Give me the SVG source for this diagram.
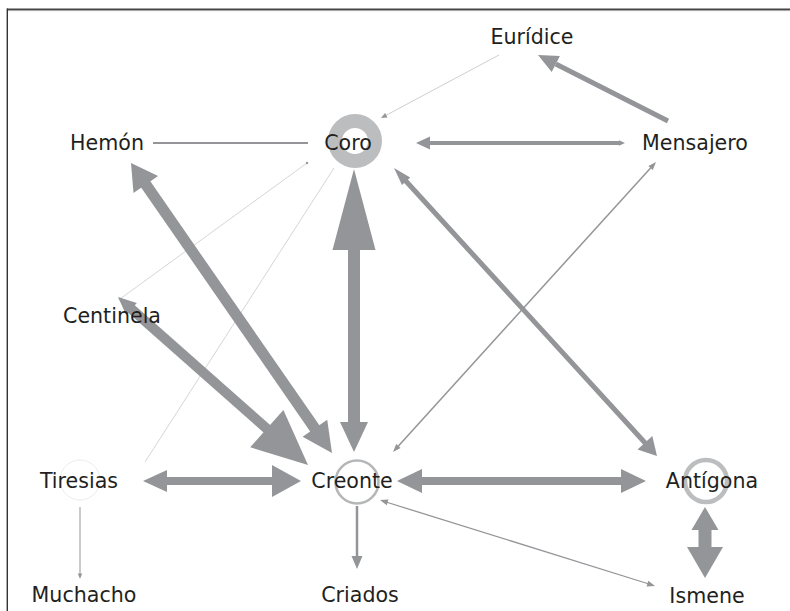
<svg xmlns="http://www.w3.org/2000/svg" width="790" height="611" viewBox="0 0 790 611">
<style>
text{font-family:"DejaVu Sans","Liberation Sans",sans-serif;font-size:20.6px;fill:#231f20;text-anchor:middle}
.sh{stroke:#939598;fill:none}
.hd{fill:#939598;stroke:none}
.th{stroke:#b8b9bb;fill:none}
</style>
<rect width="790" height="611" fill="#fff"/>
<g id="frame">
<line x1="7" y1="9.3" x2="790" y2="9.3" stroke="#444" stroke-width="1.4"/>
<line x1="8" y1="10.6" x2="790" y2="10.6" stroke="#a0a0a0" stroke-width="1"/>
<line x1="7.3" y1="8.6" x2="7.3" y2="611" stroke="#333" stroke-width="1.4"/>
</g>
<g id="connectors">
<!-- Euridice -> Coro -->
<line class="th" x1="499" y1="55" x2="386" y2="115.3" stroke-width="0.7"/>
<polygon class="hd" points="381,118 385.1,113 387.5,117.4"/>
<!-- Mensajero -> Euridice -->
<line class="sh" x1="668" y1="121" x2="555.8" y2="64" stroke-width="5"/>
<polygon class="hd" points="538,55 559.9,56 551.7,72.1"/>
<!-- Coro <-> Mensajero -->
<line class="sh" x1="428" y1="143" x2="620" y2="143" stroke-width="4"/>
<polygon class="hd" points="416,143 430,136.5 430,149.5"/>
<polygon class="hd" points="625,143 619,140.3 619,145.7"/>
<!-- Hemon - Coro -->
<line class="sh" x1="153" y1="143" x2="308" y2="143" stroke-width="2"/>
<!-- Coro - Centinela -->
<line class="th" x1="307" y1="163" x2="120" y2="299" stroke-width="0.6" stroke="#c4c5c7"/>
<circle cx="307" cy="163" r="1.2" fill="#999"/>
<circle cx="120" cy="299" r="1.2" fill="#999"/>
<!-- Coro - Tiresias -->
<line class="th" x1="334" y1="168" x2="145" y2="462" stroke-width="0.6" stroke="#c4c5c7"/>
<!-- Hemon <-> Creonte -->
<line class="sh" x1="142" y1="179" x2="318" y2="433" stroke-width="11"/>
<polygon class="hd" points="131,163 133.5,192.9 158.1,175.9"/>
<polygon class="hd" points="332,453 302.6,436.8 327.2,419.8"/>
<!-- Centinela <-> Creonte -->
<line class="sh" x1="128" y1="306" x2="270" y2="431.5" stroke-width="10"/>
<polygon class="hd" points="118,297 126.2,314.9 136.8,302.9"/>
<polygon class="hd" points="308,465 250.2,447.3 283.4,409.9"/>
<!-- Coro <-> Creonte -->
<line class="sh" x1="354" y1="246" x2="354" y2="425" stroke-width="12"/>
<polygon class="hd" points="354,169 332.5,250 375.5,250"/>
<polygon class="hd" points="354,452 340,422 368,422"/>
<!-- Coro <-> Antigona -->
<line class="sh" x1="404" y1="179" x2="647" y2="445" stroke-width="5"/>
<polygon class="hd" points="394,168 402,185 410.2,177.6"/>
<polygon class="hd" points="657,456 637.5,449.4 652.3,436"/>
<!-- Mensajero <-> Creonte -->
<line class="sh" x1="651.5" y1="167" x2="397.5" y2="447" stroke-width="1.5"/>
<polygon class="hd" points="656,162 648.4,165.9 652.8,169.9"/>
<polygon class="hd" points="393,452 396.2,444.1 400.6,448.1"/>
<!-- Creonte <-> Antigona -->
<line class="sh" x1="420" y1="481" x2="623" y2="481" stroke-width="8"/>
<polygon class="hd" points="397,481 422,469 422,493"/>
<polygon class="hd" points="646,481 621,469 621,493"/>
<!-- Tiresias <-> Creonte -->
<line class="sh" x1="165" y1="481" x2="275" y2="481" stroke-width="8"/>
<polygon class="hd" points="143,481 167,470 167,492"/>
<polygon class="hd" points="301,481 272,465 272,497"/>
<!-- Tiresias -> Muchacho -->
<line class="sh" x1="80" y1="507" x2="80" y2="575" stroke-width="1"/>
<polygon class="hd" points="80,579 77.8,573.5 82.2,573.5"/>
<!-- Creonte -> Criados -->
<line class="sh" x1="357" y1="506" x2="357" y2="558" stroke-width="2.5"/>
<polygon class="hd" points="357,569 351.5,556 362.5,556"/>
<!-- Creonte <-> Ismene -->
<line class="sh" x1="386" y1="502" x2="649" y2="584" stroke-width="1.3"/>
<polygon class="hd" points="380,500 386.7,505.2 388.5,499.5"/>
<polygon class="hd" points="655,586 646.5,586.5 648.3,580.7"/>
<!-- Antigona <-> Ismene -->
<line class="sh" x1="705" y1="528" x2="705" y2="549" stroke-width="13"/>
<polygon class="hd" points="705,507 691.5,530 718.5,530"/>
<polygon class="hd" points="705,578 687,547 723,547"/>
</g>
<g id="euridice"><text x="532" y="44">Eurídice</text></g>
<g id="coro"><circle cx="355" cy="141" r="20" fill="none" stroke="#bcbdbf" stroke-width="14"/><text x="348" y="150">Coro</text></g>
<g id="hemon"><text x="107" y="150">Hemón</text></g>
<g id="mensajero"><text x="695" y="150">Mensajero</text></g>
<g id="centinela"><text x="112" y="323">Centinela</text></g>
<g id="tiresias"><circle cx="80" cy="480" r="20" fill="none" stroke="#e6e7e8" stroke-width="0.8"/><text x="79" y="488">Tiresias</text></g>
<g id="creonte"><circle cx="357" cy="482" r="21.5" fill="none" stroke="#b5b6b8" stroke-width="2.5"/><text x="352" y="488">Creonte</text></g>
<g id="antigona"><circle cx="706" cy="481" r="21" fill="none" stroke="#bcbdbf" stroke-width="4.5"/><text x="712" y="488">Antígona</text></g>
<g id="muchacho"><text x="84" y="602">Muchacho</text></g>
<g id="criados"><text x="360" y="602">Criados</text></g>
<g id="ismene"><text x="707" y="603">Ismene</text></g>
</svg>
